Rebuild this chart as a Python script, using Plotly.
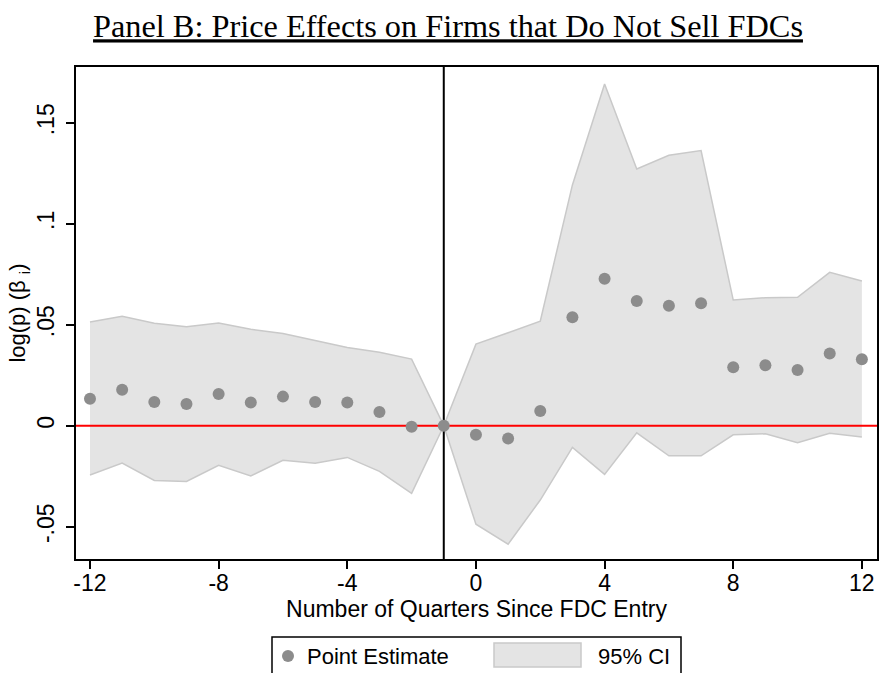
import plotly.graph_objects as go

# event-study estimates
quarters = list(range(-12, 13))
point_estimate = [
    0.0134, 0.0178, 0.0117, 0.0107, 0.0157, 0.0115, 0.0144, 0.0117, 0.0115, 0.0068, -0.0005, 0.0,
    -0.0045, -0.0063, 0.0073, 0.0537, 0.0728, 0.0617, 0.0594, 0.0606, 0.0289, 0.0299, 0.0276, 0.0358, 0.0329,
]
ci_upper = [
    0.0513, 0.0542, 0.0507, 0.0490, 0.0508, 0.0477, 0.0457, 0.0421, 0.0387, 0.0364, 0.0330, 0.0,
    0.0404, 0.0460, 0.0518, 0.1192, 0.1692, 0.1271, 0.1339, 0.1362, 0.0622, 0.0634, 0.0636, 0.0759, 0.0716,
]
ci_lower = [
    -0.0244, -0.0185, -0.0271, -0.0276, -0.0196, -0.0249, -0.0171, -0.0186, -0.0157, -0.0226, -0.0335, 0.0,
    -0.0488, -0.0587, -0.0368, -0.0107, -0.0241, -0.0035, -0.0149, -0.0149, -0.0045, -0.0040, -0.0084, -0.0038, -0.0056,
]
x_ticks = [-12, -8, -4, 0, 4, 8, 12]
x_tick_labels = ["-12", "-8", "-4", "0", "4", "8", "12"]
y_ticks = [-0.05, 0, 0.05, 0.1, 0.15]
y_tick_labels = ["-.05", "0", ".05", ".1", ".15"]
ref_quarter = -1

X_RANGE = [-12.435, 12.47]
Y_RANGE = [-0.066, 0.1776]

SANS = "Liberation Sans, Arial, sans-serif"
SERIF = "Liberation Serif, Times New Roman, serif"
MARKER_GREY = "#8c8c8c"
CI_FILL = "#e4e4e4"
CI_LINE = "#c9c9c9"

W, H = 880, 673

fig = go.Figure()
fig.add_trace(go.Scatter(
    x=quarters, y=ci_upper, mode="lines",
    line=dict(color=CI_LINE, width=1.5), showlegend=False, hoverinfo="skip",
))
fig.add_trace(go.Scatter(
    x=quarters, y=ci_lower, mode="lines", fill="tonexty", fillcolor=CI_FILL,
    line=dict(color=CI_LINE, width=1.5), name="95% CI", showlegend=False,
))
# zero line and event line sit above the band but under the points
fig.add_trace(go.Scatter(
    x=X_RANGE, y=[0, 0], mode="lines",
    line=dict(color="#ff0000", width=2), showlegend=False, hoverinfo="skip",
))
fig.add_trace(go.Scatter(
    x=[ref_quarter, ref_quarter], y=Y_RANGE, mode="lines",
    line=dict(color="black", width=2), showlegend=False, hoverinfo="skip",
))
fig.add_trace(go.Scatter(
    x=quarters, y=point_estimate, mode="markers",
    marker=dict(color=MARKER_GREY, size=12), name="Point Estimate", showlegend=False,
))


def px_x(p):
    return (p - 76) / 801


def px_y(p):
    return (559 - p) / 492


# legend box drawn by hand to get the wide Stata-style swatch
shapes = [
    dict(type="rect", xref="paper", yref="paper", opacity=1, layer="above",
         x0=px_x(272), x1=px_x(681), y0=px_y(695), y1=px_y(637),
         line=dict(color="black", width=1.5), fillcolor="white"),
    dict(type="circle", xref="paper", yref="paper", opacity=1, layer="above",
         x0=px_x(282), x1=px_x(294), y0=px_y(662), y1=px_y(650),
         line=dict(color=MARKER_GREY, width=0), fillcolor=MARKER_GREY),
    dict(type="rect", xref="paper", yref="paper", opacity=1, layer="above",
         x0=px_x(494), x1=px_x(581), y0=px_y(667), y1=px_y(643),
         line=dict(color=CI_LINE, width=1.5), fillcolor=CI_FILL),
]
annotations = [
    dict(text="Point Estimate", xref="paper", yref="paper", x=px_x(305), y=px_y(656),
         xanchor="left", yanchor="middle", showarrow=False, font=dict(family=SANS, size=22, color="black")),
    dict(text="95% CI", xref="paper", yref="paper", x=px_x(596), y=px_y(656),
         xanchor="left", yanchor="middle", showarrow=False, font=dict(family=SANS, size=22, color="black")),
]

fig.update_layout(
    width=W,
    height=H,
    template="none",
    plot_bgcolor="white",
    paper_bgcolor="white",
    margin=dict(l=76, r=3, t=67, b=114, autoexpand=False),
    title=dict(
        text="<u>Panel B: Price Effects on Firms that Do Not Sell FDCs</u>",
        font=dict(family=SERIF, size=32.3, color="black"),
        x=448 / W, xanchor="center", xref="container",
        y=1 - 26 / H, yanchor="middle", yref="container",
    ),
    shapes=shapes,
    annotations=annotations,
    showlegend=False,
)
fig.update_xaxes(
    range=X_RANGE, automargin=False,
    tickvals=x_ticks, ticktext=x_tick_labels,
    ticks="outside", ticklen=8, tickwidth=1.5, tickcolor="black",
    ticklabelstandoff=-6,
    showline=True, linecolor="black", linewidth=2, mirror=True,
    showgrid=False, zeroline=False,
    tickfont=dict(family=SANS, size=23, color="black"),
    title=dict(text="Number of Quarters Since FDC Entry", font=dict(family=SANS, size=23, color="black"),
               standoff=0),
)
fig.update_yaxes(
    range=Y_RANGE, automargin=False,
    tickvals=y_ticks, ticktext=y_tick_labels, tickangle=-90,
    ticks="outside", ticklen=8, tickwidth=1.5, tickcolor="black",
    ticklabelstandoff=3,
    showline=True, linecolor="black", linewidth=2, mirror=True,
    showgrid=False, zeroline=False,
    tickfont=dict(family=SANS, size=23, color="black"),
    title=dict(text="log(p) (β <sub>i</sub>)", font=dict(family=SANS, size=22, color="black"),
               standoff=0),
)

# drop the default body margin so the figure fills the window exactly
fig.write_html(
    "out.html",
    config={"displayModeBar": False},
    post_script="document.body.style.margin='0';document.body.style.overflow='hidden';",
)
